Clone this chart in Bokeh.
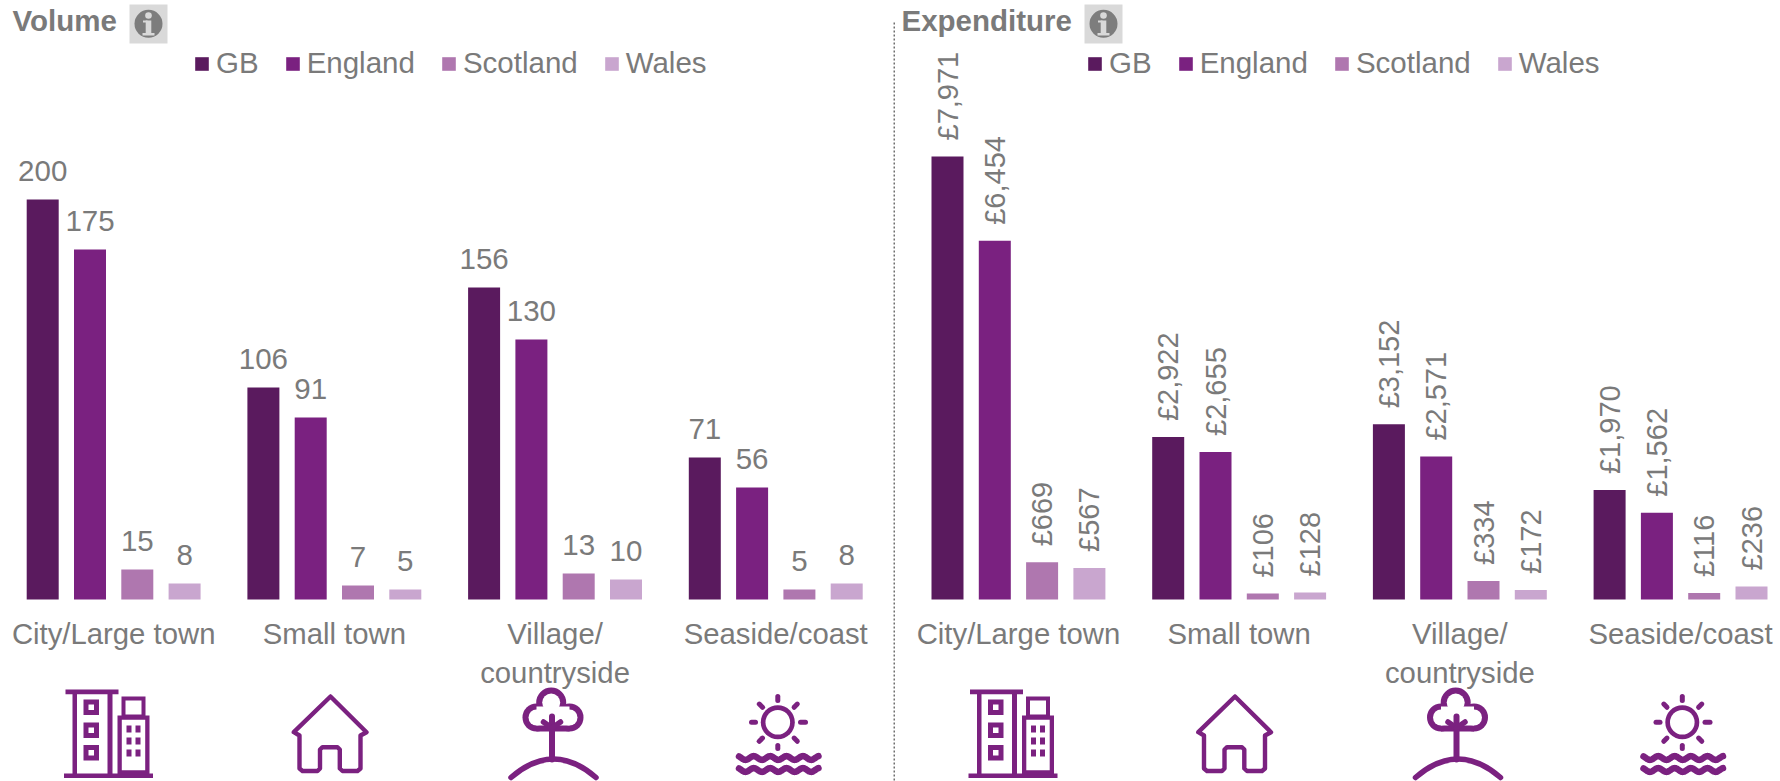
import math
from bokeh.embed import file_html
from bokeh.resources import INLINE
from bokeh.plotting import figure
from bokeh.layouts import row
from bokeh.models import Range1d, FixedTicker, Legend, LegendItem, ColumnDataSource
from bokeh.core.properties import value

categories = ["City/Large town", "Small town", "Village/\ncountryside", "Seaside/coast"]
series_names = ["GB", "England", "Scotland", "Wales"]

vol_gb = [200, 106, 156, 71]
vol_england = [175, 91, 130, 56]
vol_scotland = [15, 7, 13, 5]
vol_wales = [8, 5, 10, 8]

exp_gb = [7971, 2922, 3152, 1970]
exp_england = [6454, 2655, 2571, 1562]
exp_scotland = [669, 106, 334, 116]
exp_wales = [567, 128, 172, 236]

series_colors = ["#5A1A5E", "#7A2180", "#AF77AF", "#C9A6CF"]
ICON = "#7B2180"
TXT = "#7A7A7A"
FONT = "Liberation Sans"
BASE_Y = 599
TOP, BOTTOM = 0, 773
SHIFT = 8
BAR_W, BAR_STEP, GROUP_STEP = 32, 47.3, 220.7


def make_panel(x0, x1, first_bar, px_per_unit, series, rotated, fmt):
    y_lo = -(BOTTOM + SHIFT - BASE_Y) / px_per_unit
    y_hi = (BASE_Y - TOP) / px_per_unit
    p = figure(width=x1 - x0, height=BOTTOM + SHIFT - TOP, output_backend="svg", toolbar_location=None,
               x_range=Range1d(x0, x1), y_range=Range1d(y_lo, y_hi), min_border=0,
               background_fill_color="white", border_fill_color="white", outline_line_color=None)
    p.extra_y_ranges = {"px": Range1d(BOTTOM + SHIFT, TOP)}
    p.grid.visible = False
    p.yaxis.visible = False
    centers = [first_bar + i * GROUP_STEP + (3 * BAR_STEP + BAR_W) / 2 for i in range(4)]
    ax = p.xaxis[0]
    ax.fixed_location = 0
    ax.ticker = FixedTicker(ticks=centers)
    ax.major_label_overrides = {c: t for c, t in zip(centers, categories)}
    ax.axis_line_color = None
    ax.major_tick_line_color = None
    ax.minor_tick_line_color = None
    ax.major_label_text_font = FONT
    ax.major_label_text_font_size = "29.3px"
    ax.major_label_text_color = TXT
    ax.major_label_standoff = 11

    items = []
    for s, (vals, col, name) in enumerate(zip(series, series_colors, series_names)):
        xs = [first_bar + g * GROUP_STEP + s * BAR_STEP + BAR_W / 2 for g in range(4)]
        src = ColumnDataSource(dict(x=xs, top=vals, label=[fmt(v) for v in vals]))
        r = p.vbar(x="x", top="top", bottom=0, width=BAR_W, source=src, fill_color=col, line_color=None)
        items.append(LegendItem(label=name, renderers=[r]))
        if rotated:
            p.text(x="x", y="top", text="label", source=src, angle=math.pi / 2, y_offset=-16,
                   text_align="left", text_baseline="middle", text_font=value(FONT),
                   text_font_size="29px", text_color=TXT)
        else:
            p.text(x="x", y="top", text="label", source=src, y_offset=-29,
                   text_align="center", text_baseline="middle", text_font=value(FONT),
                   text_font_size="29.5px", text_color=TXT)
    return p, items


def add_legend(p, items, x, y_screen):
    lg = Legend(items=items, orientation="horizontal", location=(x, y_screen),
                glyph_width=17, glyph_height=17, label_standoff=6, spacing=25, margin=0, padding=0,
                border_line_color=None, background_fill_alpha=0, label_text_font=FONT,
                label_text_font_size="29.5px", label_text_color=TXT, label_height=15)
    p.add_layout(lg)


def seg(p, pts, ox, w, color=ICON, oy=680):
    p.line([a + ox for a, _ in pts], [b + oy for _, b in pts], y_range_name="px", line_color=color,
           line_width=w, line_join="round", line_cap="round")


def box(p, l, r, t, b, ox, color=ICON, oy=680):
    p.quad(left=[l + ox], right=[r + ox], top=[t + oy], bottom=[b + oy], y_range_name="px",
           fill_color=color, line_color=None)


def frame(p, l, r, t, b, ox, w):
    box(p, l, r, t, b, ox)
    box(p, l + w, r - w, t + w, b - w, ox, "white")


def oval(p, cx, cy, r, ox, color=ICON, oy=680):
    p.ellipse(x=[cx + ox], y=[cy + oy], width=2 * r, height=2 * r, y_range_name="px",
              fill_color=color, line_color=None)


def building(p, ox):
    box(p, 17, 21.5, 12, 94, ox)
    box(p, 52, 57, 12, 94, ox)
    box(p, 10, 63, 9, 13.7, ox)
    box(p, 8.5, 97.5, 93, 97.5, ox)
    for t, b in [(19, 34.5), (42, 57.5), (64.5, 80)]:
        frame(p, 28, 43.5, t, b, ox, 5)
    frame(p, 66, 90, 16, 38, ox, 4)
    frame(p, 62, 94, 35, 94, ox, 4.3)
    for t, b in [(45, 52), (57, 64), (69, 76)]:
        box(p, 71, 76, t, b, ox)
        box(p, 80, 85, t, b, ox)


def house(p, ox):
    pts = [(50, 16), (86, 51.7), (80, 55), (80, 88), (77, 90.5), (62, 90.5), (59.3, 88), (59.3, 69),
           (57, 66.7), (42, 66.7), (39.5, 69), (39.5, 88), (37, 90.5), (22, 90.5), (19, 88), (19, 55),
           (13.3, 51.7), (50, 16)]
    seg(p, pts, ox, 4.4)


def tree(p, ox):
    oval(p, 50.7, 22, 15, ox)
    oval(p, 36, 37, 14, ox)
    oval(p, 69, 37, 14, ox)
    box(p, 36, 69, 28, 51, ox)
    oval(p, 50.7, 22, 9, ox, "white")
    oval(p, 36, 37, 8, ox, "white")
    oval(p, 69, 37, 8, ox, "white")
    box(p, 36, 69, 26, 45, ox, "white")
    seg(p, [(51.5, 36), (51.5, 79)], ox, 6)
    seg(p, [(43, 41.5), (51.5, 47.5)], ox, 5.5)
    seg(p, [(60, 41.5), (51.5, 47.5)], ox, 5.5)
    p.quadratic(x0=[10.5 + ox], y0=[777], x1=[95.5 + ox], y1=[777], cx=[53 + ox], cy=[740],
                y_range_name="px", line_color=ICON, line_width=5.5, line_cap="round")


def sun(p, ox):
    oval(p, 57.3, 41.7, 17, ox)
    oval(p, 57.3, 41.7, 12.3, ox, "white")
    for a, b in [((57.3, 16), (57.3, 20)), ((57.3, 65), (57.3, 68)), ((31, 41.7), (35, 41.7)),
                 ((80, 41.7), (85, 41.7)), ((38.8, 23.6), (42, 26.8)), ((76.8, 23.6), (73.6, 26.8)),
                 ((38.8, 60.8), (42, 57.6)), ((76.8, 60.8), (73.6, 57.6))]:
        seg(p, [a, b], ox, 5)
    for yy in (77.5, 89.5):
        pts = []
        n = 96
        for i in range(n + 1):
            xx = 18.5 + (98 - 18.5) * i / n
            pts.append((xx, yy + 1.9 * math.cos((xx - 25) * 2 * math.pi / 16.4)))
        seg(p, pts, ox, 6.5)


def header(p, title, tx, ix):
    p.text(x=[tx], y=[19.5], text=[title], y_range_name="px", text_baseline="middle",
           text_align="left", text_font=value(FONT), text_font_style="bold", text_font_size="29.5px",
           text_color=TXT)
    box(p, ix, ix + 38, 4, 43, 0, "#D9D9D9", 0)
    oval(p, ix + 19, 23.3, 14, 0, "#7D7D7D", 0)
    oval(p, ix + 19, 15, 3.3, 0, "#D9D9D9", 0)
    box(p, ix + 16.2, ix + 21.8, 20, 34, 0, "#D9D9D9", 0)
    box(p, ix + 13, ix + 25, 32.5, 35, 0, "#D9D9D9", 0)
    box(p, ix + 13.5, ix + 18, 20, 22, 0, "#D9D9D9", 0)


left, left_items = make_panel(0, 893, 26.2, 2.0, [vol_gb, vol_england, vol_scotland, vol_wales], False, str)
right, right_items = make_panel(893, 1780, 931, 443 / 7971,
                                [exp_gb, exp_england, exp_scotland, exp_wales], True, lambda v: f"£{v:,}")
add_legend(left, left_items, 193, 781 - 80)
add_legend(right, right_items, 1086 - 893, 781 - 80)

header(left, "Volume", 12, 129)
header(right, "Expenditure", 901, 1084)

for ox, p in [(0, left), (904.5, right)]:
    building(p, 55 + ox)
    house(p, 280 + ox)
    tree(p, 500 + ox)
    sun(p, 720 + ox)

right.segment(x0=[893.5], y0=[22], x1=[893.5], y1=[781], y_range_name="px", line_color="#5F5F5F",
              line_width=1.8, line_dash="2 2")

layout = row(left, right, spacing=0)
open("out.html", "w").write(file_html(layout, INLINE))
